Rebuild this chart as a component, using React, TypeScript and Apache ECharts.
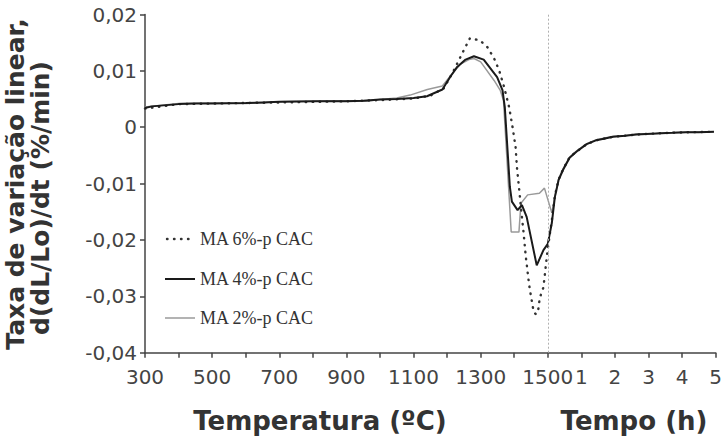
import React, { useEffect, useRef } from "react";
import * as echarts from "echarts";

// Temperature section: [temperature °C, d(dL/Lo)/dt %/min]
const temp6: [number, number][] = [
  [300, 0.0033], [400, 0.0041], [500, 0.0042], [600, 0.0043], [700, 0.0044], [800, 0.0045],
  [900, 0.0046], [1000, 0.0048], [1100, 0.0051], [1150, 0.0056], [1190, 0.0069], [1215, 0.0095],
  [1235, 0.0119], [1250, 0.0137], [1268, 0.0158], [1298, 0.0154], [1320, 0.0142], [1340, 0.0122],
  [1355, 0.0101], [1370, 0.0071], [1385, 0.0035], [1395, 0.0], [1404, -0.0035], [1408, -0.0071],
  [1414, -0.0106], [1423, -0.016], [1428, -0.0188], [1434, -0.0227], [1442, -0.0268], [1446, -0.0286],
  [1452, -0.0307], [1458, -0.0328], [1465, -0.0332], [1472, -0.0322], [1476, -0.0303], [1487, -0.0284],
  [1497, -0.023], [1500, -0.0215],
];
const temp4: [number, number][] = [
  [300, 0.0034], [320, 0.0037], [400, 0.0041], [450, 0.0042], [500, 0.0042], [600, 0.0043],
  [650, 0.0044], [700, 0.0045], [800, 0.0046], [900, 0.0046], [950, 0.0047], [1000, 0.0049],
  [1050, 0.005], [1100, 0.0052], [1140, 0.0055], [1186, 0.0067], [1210, 0.009], [1230, 0.0107],
  [1255, 0.012], [1280, 0.0126], [1309, 0.012], [1349, 0.0089], [1365, 0.0066], [1372, 0.0035],
  [1387, -0.0106], [1393, -0.0132], [1410, -0.0147], [1423, -0.0138], [1437, -0.0159], [1467, -0.0245],
  [1487, -0.0218], [1500, -0.0207],
];
const temp2: [number, number][] = [
  [300, 0.0036], [350, 0.0039], [400, 0.0042], [500, 0.0043], [600, 0.0042], [700, 0.0045],
  [800, 0.0046], [850, 0.0047], [900, 0.0047], [960, 0.0046], [1000, 0.0049], [1050, 0.0052],
  [1090, 0.0057], [1141, 0.0067], [1186, 0.0073], [1215, 0.0095], [1240, 0.0112], [1265, 0.012],
  [1280, 0.0122], [1300, 0.0116], [1340, 0.0083], [1358, 0.0066], [1368, 0.0048], [1391, -0.0186],
  [1414, -0.0186], [1420, -0.0135], [1440, -0.012], [1475, -0.0117], [1490, -0.0108], [1500, -0.0128],
];

// Time section at 1500 °C: [time h, d(dL/Lo)/dt %/min]
const time6: [number, number][] = [
  [0, -0.0215], [0.12, -0.0165], [0.21, -0.0122], [0.32, -0.0093], [0.46, -0.0074], [0.65, -0.0053],
  [0.86, -0.0043], [1.16, -0.003], [1.45, -0.0023], [1.95, -0.0017], [2.64, -0.0013], [3.23, -0.0011],
  [4.12, -0.0009], [4.95, -0.0008],
];
const time4: [number, number][] = [
  [0, -0.0207], [0.12, -0.017], [0.21, -0.0124], [0.32, -0.0094], [0.46, -0.0075], [0.65, -0.0054],
  [0.86, -0.0043], [1.16, -0.003], [1.45, -0.0023], [1.95, -0.0017], [2.3, -0.0015], [2.64, -0.0013],
  [3.23, -0.0011], [3.7, -0.001], [4.12, -0.0009], [4.5, -0.0009], [4.95, -0.0008],
];
const time2: [number, number][] = [
  [0, -0.0128], [0.12, -0.0152], [0.21, -0.0124], [0.32, -0.0092], [0.46, -0.0073], [0.65, -0.0053],
  [0.86, -0.0042], [1.16, -0.0029], [1.45, -0.0022], [1.95, -0.0016], [2.3, -0.0015], [2.64, -0.0012],
  [3.23, -0.0011], [3.7, -0.001], [4.12, -0.0009], [4.95, -0.0008],
];

const seriesNames = ["MA 6%-p CAC", "MA 4%-p CAC", "MA 2%-p CAC"];
const tempTickLabels = [300, 500, 700, 900, 1100, 1300, 1500];
const timeTickLabels = [1, 2, 3, 4, 5];

// Combined axis: one unit = 100 °C in the temperature section, 1 h in the time section
const T0 = 300;
const TSTEP = 100;
const TEND = 1500;
const tempU = (t: number) => (t - T0) / TSTEP;
const TU_END = tempU(TEND);
const timeU = (h: number) => TU_END + h;

const build = (a: [number, number][], b: [number, number][]) => [
  ...a.map(([t, v]) => [tempU(t), v]),
  ...b.map(([h, v]) => [timeU(h), v]),
];

const styles = [
  { color: "#333", width: 2.4, dash: [0.5, 6.5] as number[] | null, cap: "round" },
  { color: "#1a1a1a", width: 2, dash: null, cap: "butt" },
  { color: "#9a9a9a", width: 1.5, dash: null, cap: "butt" },
];

export default function App() {
  const ref = useRef<HTMLDivElement>(null);
  useEffect(() => {
    if (!ref.current) return;
    const chart = echarts.init(ref.current, undefined, { renderer: "svg" });
    const labelFor = (u: number) => {
      const r = Math.round(u);
      if (Math.abs(u - r) > 1e-6) return "";
      if (r <= TU_END) {
        const t = T0 + r * TSTEP;
        return tempTickLabels.includes(t) ? String(t) : "";
      }
      const h = r - TU_END;
      return timeTickLabels.includes(h) ? String(h) : "";
    };
    const axisColor = "#444";
    const titleStyle = {
      fontFamily: "DejaVu Sans",
      fontWeight: "bold",
      fontSize: 26,
      fill: "#333",
      textAlign: "center",
      textVerticalAlign: "middle",
    };
    const legendRows = [239, 279, 318];
    const legendGraphics: any[] = [];
    seriesNames.forEach((name, i) => {
      const s = styles[i];
      legendGraphics.push({
        type: "line",
        shape: { x1: i === 0 ? 167 : 165, y1: legendRows[i], x2: i === 0 ? 192 : 195, y2: legendRows[i] },
        style: {
          stroke: s.color,
          lineWidth: s.width,
          lineDash: s.dash || undefined,
          lineCap: s.cap,
        },
        silent: true,
      });
      legendGraphics.push({
        type: "text",
        x: 200,
        y: legendRows[i],
        style: {
          text: name,
          fontFamily: "Liberation Serif",
          fontSize: 18,
          fill: "#333",
          textAlign: "left",
          textVerticalAlign: "middle",
        },
        silent: true,
      });
    });
    chart.setOption({
      animation: false,
      backgroundColor: "#ffffff",
      grid: { left: 145, right: 5, top: 14.5, bottom: 91.3, containLabel: false },
      xAxis: {
        type: "value",
        min: 0,
        max: TU_END + timeTickLabels[timeTickLabels.length - 1],
        interval: 1,
        axisLine: { onZero: false, lineStyle: { color: axisColor, width: 1.5 } },
        axisTick: { show: true, length: 5, lineStyle: { color: axisColor, width: 1.5 } },
        splitLine: { show: false },
        axisLabel: {
          formatter: labelFor,
          fontFamily: "DejaVu Sans",
          fontSize: 20,
          color: "#444",
          margin: 14,
        },
      },
      yAxis: {
        type: "value",
        min: -0.04,
        max: 0.02,
        interval: 0.01,
        axisLine: { show: true, lineStyle: { color: axisColor, width: 1.5 } },
        axisTick: { show: true, length: 5, lineStyle: { color: axisColor, width: 1.5 } },
        splitLine: { show: false },
        axisLabel: {
          formatter: (v: number) => (Math.abs(v) < 1e-9 ? "0" : v.toFixed(2).replace(".", ",")),
          fontFamily: "DejaVu Sans",
          fontSize: 20,
          color: "#444",
          margin: 8,
        },
      },
      graphic: [
        { type: "text", x: 320, y: 421, style: { ...titleStyle, text: "Temperatura (ºC)" } },
        { type: "text", x: 634, y: 421, style: { ...titleStyle, text: "Tempo (h)" } },
        {
          type: "text",
          x: 15,
          y: 184,
          rotation: Math.PI / 2,
          style: { ...titleStyle, fontSize: 25, text: "Taxa de variação linear," },
        },
        {
          type: "text",
          x: 40,
          y: 198,
          rotation: Math.PI / 2,
          style: { ...titleStyle, fontSize: 25, text: "d(dL/Lo)/dt (%/min)" },
        },
        ...legendGraphics,
      ],
      series: seriesNames.map((name, i) => {
        const s = styles[i];
        const data = i === 0 ? build(temp6, time6) : i === 1 ? build(temp4, time4) : build(temp2, time2);
        const series: any = {
          name,
          type: "line",
          data,
          symbol: "none",
          lineStyle: { color: s.color, width: s.width, type: s.dash || "solid", cap: s.cap },
          itemStyle: { color: s.color },
          z: i === 1 ? 4 : i === 0 ? 3 : 2,
        };
        if (i === 0) {
          series.markLine = {
            silent: true,
            symbol: ["none", "none"],
            label: { show: false },
            lineStyle: { color: "#b0b0b0", width: 1, type: [2, 2], cap: "butt" },
            data: [{ xAxis: TU_END }],
          };
        }
        return series;
      }),
    });
    return () => chart.dispose();
  }, []);
  return (
    <div
      ref={ref}
      style={{ position: "fixed", left: 0, top: 0, width: 725, height: 444, background: "#fff" }}
    />
  );
}
